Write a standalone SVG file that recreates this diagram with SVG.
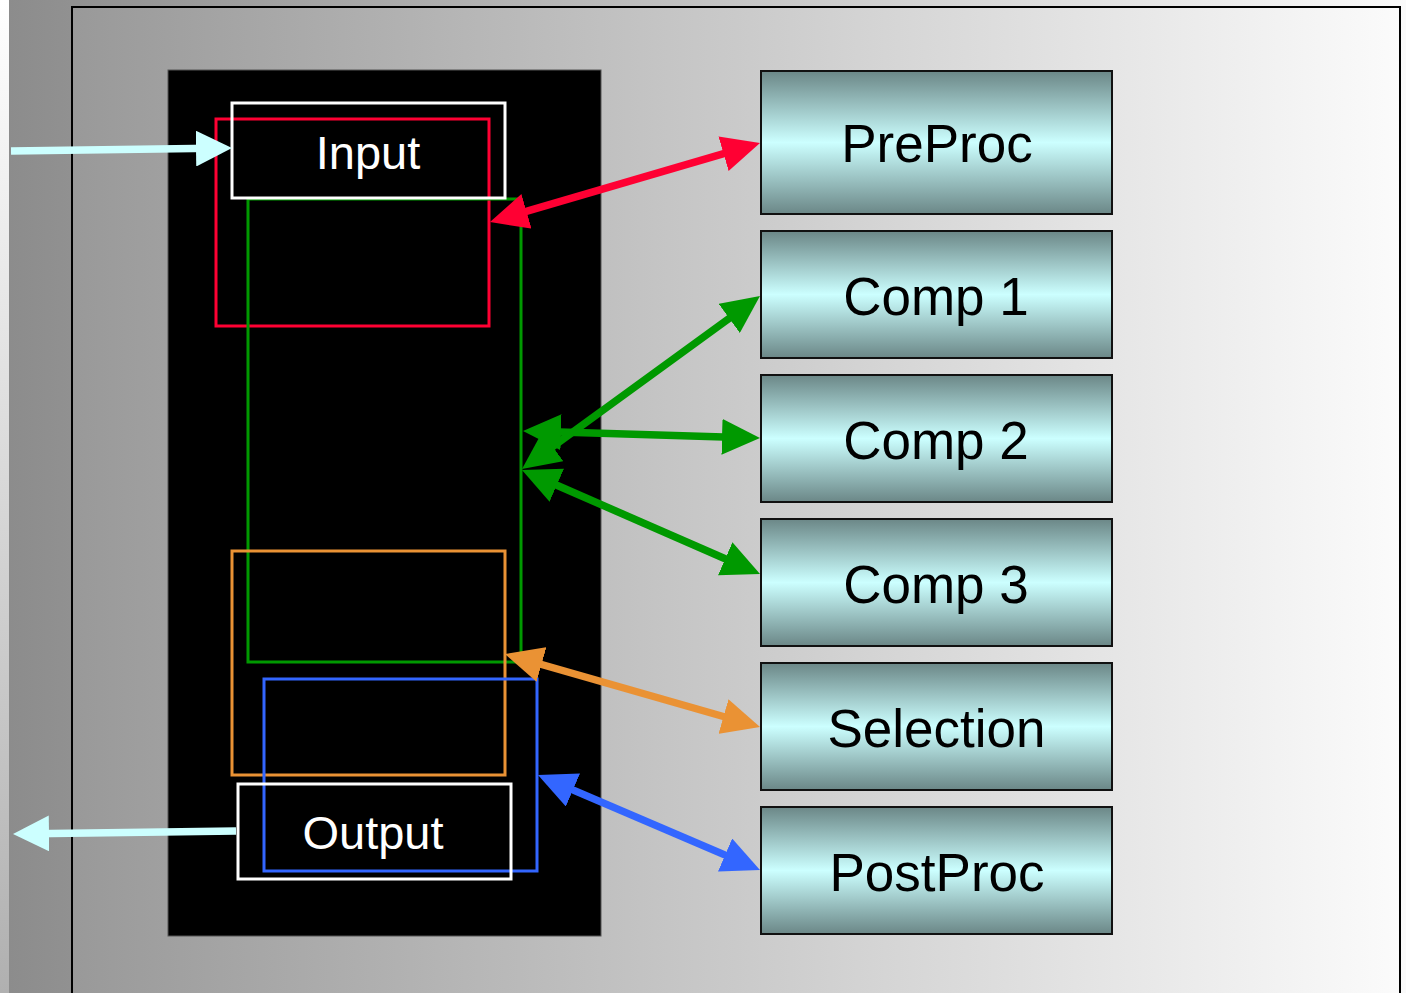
<svg xmlns="http://www.w3.org/2000/svg" width="1406" height="993" viewBox="0 0 1406 993">
  <defs>
    <linearGradient id="bgStrip" x1="0" y1="0" x2="0" y2="1">
      <stop offset="0" stop-color="#ffffff"/>
      <stop offset="1" stop-color="#b0b0b0"/>
    </linearGradient>
    <linearGradient id="bgOuter" x1="0" y1="0" x2="1" y2="0">
      <stop offset="0" stop-color="#8c8c8c"/>
      <stop offset="1" stop-color="#fafafa"/>
    </linearGradient>
    <linearGradient id="bgInner" x1="0" y1="0" x2="1" y2="0">
      <stop offset="0" stop-color="#999999"/>
      <stop offset="1" stop-color="#fbfbfb"/>
    </linearGradient>
    <linearGradient id="nodeFill" x1="0" y1="0" x2="0" y2="1">
      <stop offset="0" stop-color="#6b8787"/>
      <stop offset="0.5" stop-color="#ccffff"/>
      <stop offset="1" stop-color="#6b8787"/>
    </linearGradient>
    <marker id="headCyan" markerUnits="userSpaceOnUse" viewBox="0 0 36 36" markerWidth="36" markerHeight="36" refX="16" refY="18" orient="auto-start-reverse">
      <path d="M0,0 L36,18 L0,36 z" fill="#ccffff"/>
    </marker>
    <marker id="headRed" markerUnits="userSpaceOnUse" viewBox="0 0 38 36" markerWidth="38" markerHeight="36" refX="18" refY="18" orient="auto-start-reverse">
      <path d="M0,0 L38,18 L0,36 z" fill="#ff0033"/>
    </marker>
    <marker id="headGreen" markerUnits="userSpaceOnUse" viewBox="0 0 38 36" markerWidth="38" markerHeight="36" refX="18" refY="18" orient="auto-start-reverse">
      <path d="M0,0 L38,18 L0,36 z" fill="#009900"/>
    </marker>
    <marker id="headOrange" markerUnits="userSpaceOnUse" viewBox="0 0 38 36" markerWidth="38" markerHeight="36" refX="18" refY="18" orient="auto-start-reverse">
      <path d="M0,0 L38,18 L0,36 z" fill="#ea9234"/>
    </marker>
    <marker id="headBlue" markerUnits="userSpaceOnUse" viewBox="0 0 38 36" markerWidth="38" markerHeight="36" refX="18" refY="18" orient="auto-start-reverse">
      <path d="M0,0 L38,18 L0,36 z" fill="#3366ff"/>
    </marker>
  </defs>
  <style>
    .node rect { fill: url(#nodeFill); stroke: #111111; stroke-width: 2; }
    .node text { font-family: "Liberation Sans", Arial, sans-serif; font-size: 53px; fill: #000000; text-anchor: middle; }
    .port text { font-family: "Liberation Sans", Arial, sans-serif; font-size: 47px; fill: #ffffff; text-anchor: middle; }
    .frame { fill: none; stroke-width: 3; }
    .conn { fill: none; stroke-width: 7.5; }
  </style>

  <!-- background -->
  <rect x="0" y="0" width="1406" height="993" fill="url(#bgStrip)"/>
  <rect x="9" y="0" width="1397" height="993" fill="url(#bgOuter)"/>
  <rect x="72" y="7" width="1328" height="1000" fill="url(#bgInner)" stroke="#000000" stroke-width="2"/>

  <!-- main processing block -->
  <g id="core">
    <rect x="168" y="70" width="433" height="866" fill="#000000" stroke="#555555" stroke-width="1"/>
    <rect class="frame" x="216" y="119" width="273" height="207" stroke="#ff0033"/>
    <rect class="frame" x="248" y="199" width="273" height="463" stroke="#009900"/>
    <rect class="frame" x="232" y="551" width="273" height="224" stroke="#ea9234"/>
    <rect class="frame" x="264" y="679" width="273" height="192" stroke="#3366ff"/>
  </g>
  <g id="input" class="port">
    <rect class="frame" x="232" y="103" width="273" height="95" stroke="#ffffff"/>
    <text x="368" y="169">Input</text>
  </g>
  <g id="output" class="port">
    <rect class="frame" x="238" y="784" width="273" height="95" stroke="#ffffff"/>
    <text x="373" y="849">Output</text>
  </g>

  <!-- stage nodes -->
  <g id="preproc" class="node">
    <rect x="761" y="71" width="351" height="143"/>
    <text x="937" y="162">PreProc</text>
  </g>
  <g id="comp1" class="node">
    <rect x="761" y="231" width="351" height="127"/>
    <text x="936" y="315">Comp 1</text>
  </g>
  <g id="comp2" class="node">
    <rect x="761" y="375" width="351" height="127"/>
    <text x="936" y="459">Comp 2</text>
  </g>
  <g id="comp3" class="node">
    <rect x="761" y="519" width="351" height="127"/>
    <text x="936" y="603">Comp 3</text>
  </g>
  <g id="selection" class="node">
    <rect x="761" y="663" width="351" height="127"/>
    <text x="936.5" y="747">Selection</text>
  </g>
  <g id="postproc" class="node">
    <rect x="761" y="807" width="351" height="127"/>
    <text x="937" y="891">PostProc</text>
  </g>

  <!-- connectors -->
  <g id="connectors">
    <line class="conn" x1="11" y1="151" x2="212" y2="148.3" stroke="#ccffff" marker-end="url(#headCyan)"/>
    <line class="conn" x1="236" y1="831" x2="33" y2="833.7" stroke="#ccffff" marker-end="url(#headCyan)"/>
    <line class="conn" x1="509.2" y1="216.4" x2="740.8" y2="148.6" stroke="#ff0033" marker-start="url(#headRed)" marker-end="url(#headRed)"/>
    <line class="conn" x1="538.2" y1="457.2" x2="743.8" y2="307.8" stroke="#009900" marker-start="url(#headGreen)" marker-end="url(#headGreen)"/>
    <line class="conn" x1="543" y1="431.6" x2="740" y2="437.4" stroke="#009900" marker-start="url(#headGreen)" marker-end="url(#headGreen)"/>
    <line class="conn" x1="540.3" y1="478" x2="741.7" y2="566" stroke="#009900" marker-start="url(#headGreen)" marker-end="url(#headGreen)"/>
    <line class="conn" x1="524.2" y1="659.5" x2="740.8" y2="721.5" stroke="#ea9234" marker-start="url(#headOrange)" marker-end="url(#headOrange)"/>
    <line class="conn" x1="556.4" y1="782.9" x2="741.6" y2="862.1" stroke="#3366ff" marker-start="url(#headBlue)" marker-end="url(#headBlue)"/>
  </g>
</svg>
